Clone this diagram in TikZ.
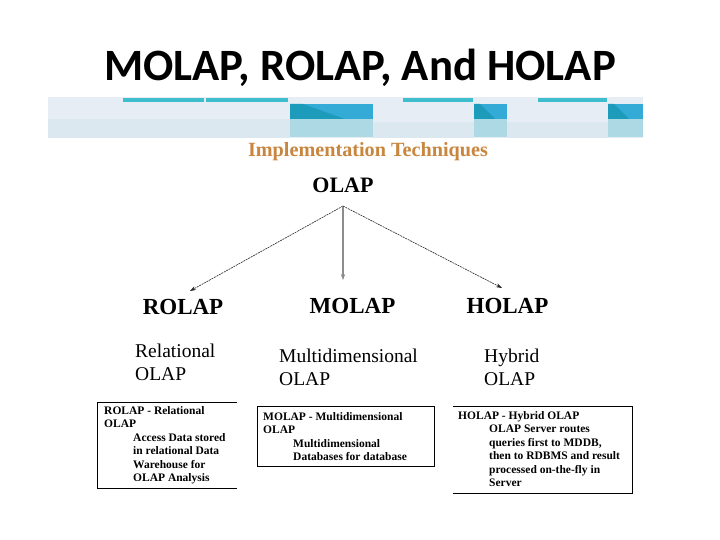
\documentclass[tikz,border=0pt]{standalone}
\usepackage{fontspec}
\setmainfont{Liberation Serif}
\newfontfamily\titlefont{Carlito}
\usetikzlibrary{arrows.meta}
\definecolor{bannerbg}{RGB}{230,237,244}
\definecolor{bannerpanel}{RGB}{220,232,239}
\definecolor{stripteal}{RGB}{62,190,204}
\definecolor{blockblue}{RGB}{52,170,214}
\definecolor{blockdark}{RGB}{28,156,186}
\definecolor{lightteal}{RGB}{172,217,227}
\definecolor{implcol}{RGB}{200,134,62}
\begin{document}
\begin{tikzpicture}[x=1pt,y=-1pt,
  boxtext/.style={anchor=north west,inner sep=0pt,align=left,font=\bfseries\fontsize{11.5}{13.4}\selectfont},
  kind/.style={anchor=base,inner sep=0pt,font=\bfseries\fontsize{23}{26}\selectfont},
  longname/.style={anchor=north west,inner sep=0pt,align=left,font=\fontsize{19.5}{23}\selectfont},
  thinarrow/.style={draw=black!85,line width=0.6pt,dash pattern=on 2pt off 0.8pt,-{Stealth[length=6pt,width=4pt]}},
  grayarrow/.style={draw=black!45,line width=1.3pt,-{Stealth[length=6pt,width=4.5pt]}},
  boxline/.style={draw=black,line width=0.9pt}]
\useasboundingbox (0,0) rectangle (720,540);
\fill[white] (0,0) rectangle (720,540);
% banner
\fill[bannerbg] (48,97) rectangle (643,138);
\fill[bannerpanel] (48,119) rectangle (290,138);
\fill[bannerpanel] (373,122) rectangle (474,138);
\fill[bannerpanel] (507,122) rectangle (608,138);
\foreach \a/\b in {123/204,206/288,403/473,538/607}{
  \fill[stripteal] (\a,98) rectangle (\b,102);}
\foreach \a/\b in {290/373,474/507,608/643}{
  \fill[blockblue] (\a,104) rectangle (\b,119);
  \fill[lightteal] (\a,119.5) rectangle (\b,137);}
\fill[blockdark] (290,104) -- (303,104) -- (345,119) -- (290,119) -- cycle;
\fill[blockdark] (474,104) -- (480,104) -- (495,119) -- (474,119) -- cycle;
\fill[blockdark] (608,104) -- (614,104) -- (629,119) -- (608,119) -- cycle;
% title
\node[anchor=base,inner sep=0pt,font=\titlefont\bfseries\fontsize{44.8}{52}\selectfont] (title) at (360,81) {MOLAP, ROLAP, And HOLAP};
\node[anchor=base,inner sep=0pt,text=implcol,font=\bfseries\fontsize{20.2}{23}\selectfont] (impl) at (368,157) {Implementation Techniques};
% tree
\node[kind,font=\bfseries\fontsize{22}{25}\selectfont] (olap) at (343,193) {OLAP};
\node[kind] (rolap) at (183,314) {ROLAP};
\node[kind] (molap) at (352.5,313) {MOLAP};
\node[kind] (holap) at (507.5,313) {HOLAP};
\coordinate (src) at (343,206);
\coordinate (tr) at (190,291);
\coordinate (tm) at (343,280);
\coordinate (th) at (502,288);
\draw[thinarrow] (src) -- (tr);
\draw[grayarrow] (src) -- (tm);
\draw[thinarrow] (src) -- (th);
% long names
\node[longname] (rname) at (135,343.5) {Relational\\OLAP};
\node[longname] (mname) at (279,348.5) {Multidimensional\\OLAP};
\node[longname] (hname) at (484,348.5) {Hybrid\\OLAP};
% boxes
\draw[boxline] (237,402) -- (97,402) -- (97,488) -- (237,488);
\draw[boxline] (257,406.5) rectangle (434.5,466);
\draw[boxline] (453,406) -- (632,406) -- (632,493) -- (453,493);
\node[boxtext] (rtext) at (104,406.3) {ROLAP - Relational\\OLAP\\\hspace*{29pt}Access Data stored\\\hspace*{29pt}in relational Data\\\hspace*{29pt}Warehouse for\\\hspace*{29pt}OLAP Analysis};
\node[boxtext] (mtext) at (263,412.3) {MOLAP - Multidimensional\\OLAP\\\hspace*{30pt}Multidimensional\\\hspace*{30pt}Databases for database};
\node[boxtext] (htext) at (458,411.3) {HOLAP - Hybrid OLAP\\\hspace*{31pt}OLAP Server routes\\\hspace*{31pt}queries first to MDDB,\\\hspace*{31pt}then to RDBMS and result\\\hspace*{31pt}processed on-the-fly in\\\hspace*{31pt}Server};
\end{tikzpicture}
\end{document}
